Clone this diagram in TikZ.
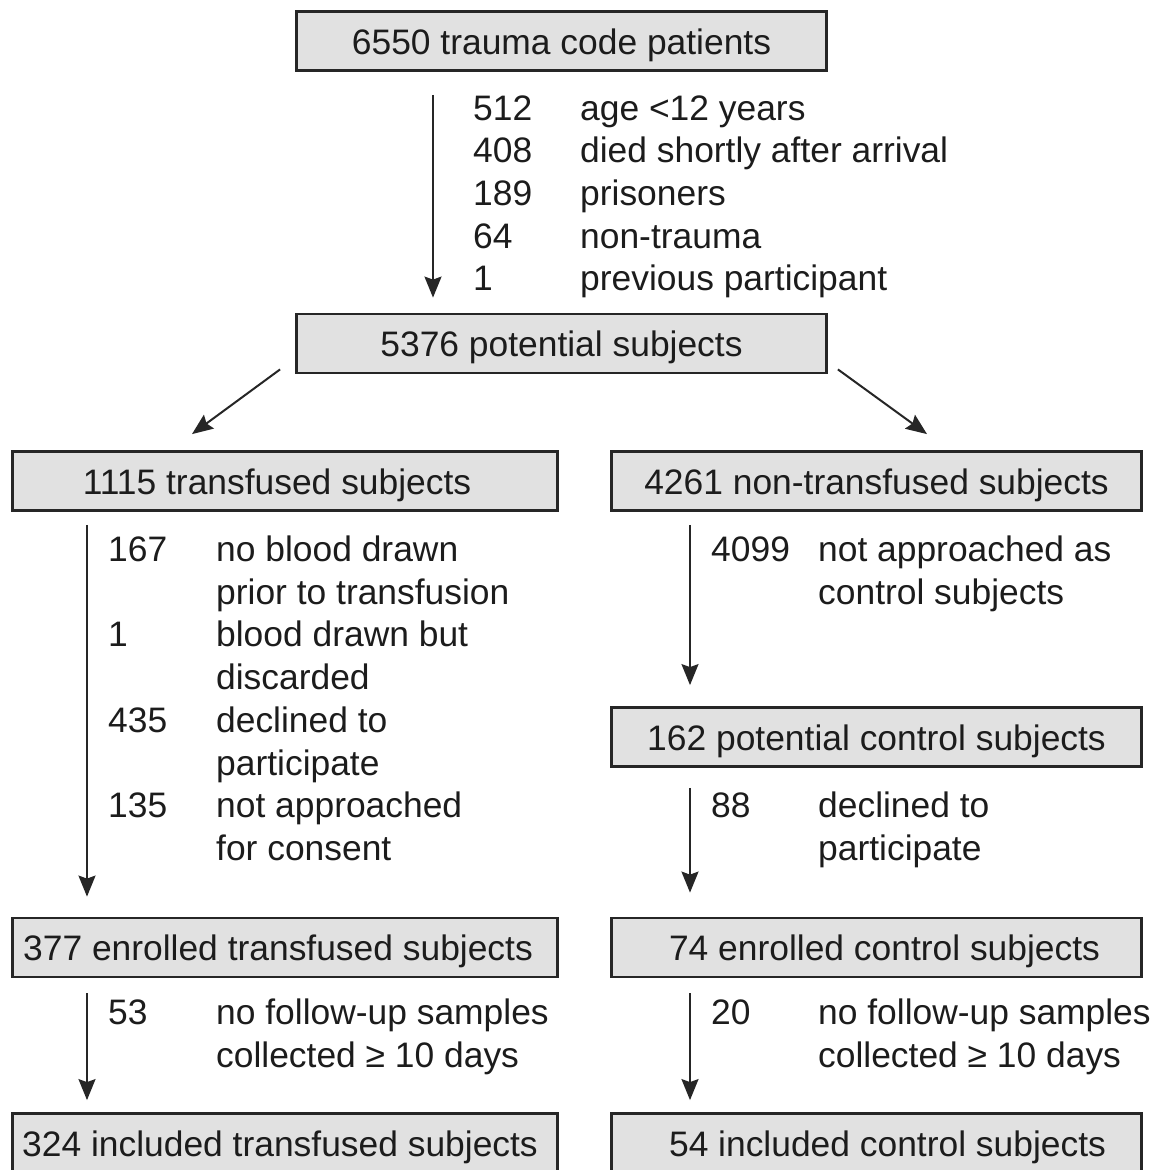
\documentclass[tikz,border=0pt]{standalone}
\usepackage{fontspec}
\setmainfont{Liberation Sans}
\usetikzlibrary{arrows.meta,positioning,calc}
\definecolor{boxgray}{HTML}{E1E1E1}
\definecolor{linegray}{HTML}{262626}
\definecolor{inkgray}{HTML}{1C1C1C}

\begin{document}
\begin{tikzpicture}[
  x=1pt, y=-1pt,
  font=\fontsize{35.4}{42.7}\selectfont,
  >={Stealth[length=21pt, width=17pt, inset=3pt]},
  box/.style={draw=linegray, line width=2.8pt, fill=boxgray, text=inkgray,
              inner sep=0pt, minimum height=59pt, text height=26pt, text depth=0pt},
  wide/.style={box, minimum width=530pt},
  wider/.style={box, minimum width=545pt},
  excl/.style={anchor=base west, inner sep=0pt, text=inkgray},
  flow/.style={->, line width=2pt, draw=linegray}
]
\useasboundingbox (0,0) rectangle (1165,1170);

% screening
\node[wide] (trauma) at (561.5,41) {6550 trauma code patients};
\node[wide] (potential) at (561.5,343.5) {5376 potential subjects};
\draw[flow] ($(trauma.south)+(-128.5,23)$) -- ($(potential.north)+(-128.5,-15)$);
\node[excl] (traumaexcl) at (473,120) {%
\begin{tabular}[t]{@{}p{107pt}@{}l@{}}
512 & age <12 years\\
408 & died shortly after arrival\\
189 & prisoners\\
64  & non-trauma\\
1   & previous participant
\end{tabular}};

% split into the two arms
\node[wider] (trans) at (285,481) {\hspace*{-16pt}1115 transfused subjects};
\node[wide] (nontrans) at (876.5,481) {4261 non-transfused subjects};
\draw[flow] ($(potential.south west)+(-15,-5)$) -- ($(trans.north)+(-93,-16)$);
\draw[flow] ($(potential.south east)+(10,-5)$) -- ($(nontrans.north)+(50.5,-16)$);

% transfused arm
\node[wider] (enrtrans) at (285,947.5) {\hspace*{-14pt}377 enrolled transfused subjects};
\node[wider] (inctrans) at (285,1143) {\hspace*{-10pt}324 included transfused subjects};
\draw[flow] ($(trans.south)+(-198,13)$) -- ($(enrtrans.north)+(-198,-20)$);
\draw[flow] ($(enrtrans.south)+(-198,15)$) -- ($(inctrans.north)+(-198,-12)$);
\node[excl] (transexcl) at (108,561.5) {%
\begin{tabular}[t]{@{}p{108pt}@{}l@{}}
167 & no blood drawn\\
    & prior to transfusion\\
1   & blood drawn but\\
    & discarded\\
435 & declined to\\
    & participate\\
135 & not approached\\
    & for consent
\end{tabular}};
\node[excl] (enrtransexcl) at (108,1024.5) {%
\begin{tabular}[t]{@{}p{108pt}@{}l@{}}
53 & no follow-up samples\\
   & collected ≥ 10 days
\end{tabular}};

% control arm
\node[wide] (potctrl) at (876.5,737) {162 potential control subjects};
\node[wide] (enrctrl) at (876.5,947.5) {\hspace*{16pt}74 enrolled control subjects};
\node[wide] (incctrl) at (876.5,1143) {\hspace*{22pt}54 included control subjects};
\draw[flow] ($(nontrans.south)+(-186.5,13)$) -- ($(potctrl.north)+(-186.5,-21)$);
\draw[flow] ($(potctrl.south)+(-186.5,20)$) -- ($(enrctrl.north)+(-186.5,-24)$);
\draw[flow] ($(enrctrl.south)+(-186.5,15)$) -- ($(incctrl.north)+(-186.5,-12)$);
\node[excl] (nontransexcl) at (711,561.5) {%
\begin{tabular}[t]{@{}p{107pt}@{}l@{}}
4099 & not approached as\\
     & control subjects
\end{tabular}};
\node[excl] (potctrlexcl) at (711,817.5) {%
\begin{tabular}[t]{@{}p{107pt}@{}l@{}}
88 & declined to\\
   & participate
\end{tabular}};
\node[excl] (enrctrlexcl) at (711,1024.5) {%
\begin{tabular}[t]{@{}p{107pt}@{}l@{}}
20 & no follow-up samples\\
   & collected ≥ 10 days
\end{tabular}};

\end{tikzpicture}
\end{document}
